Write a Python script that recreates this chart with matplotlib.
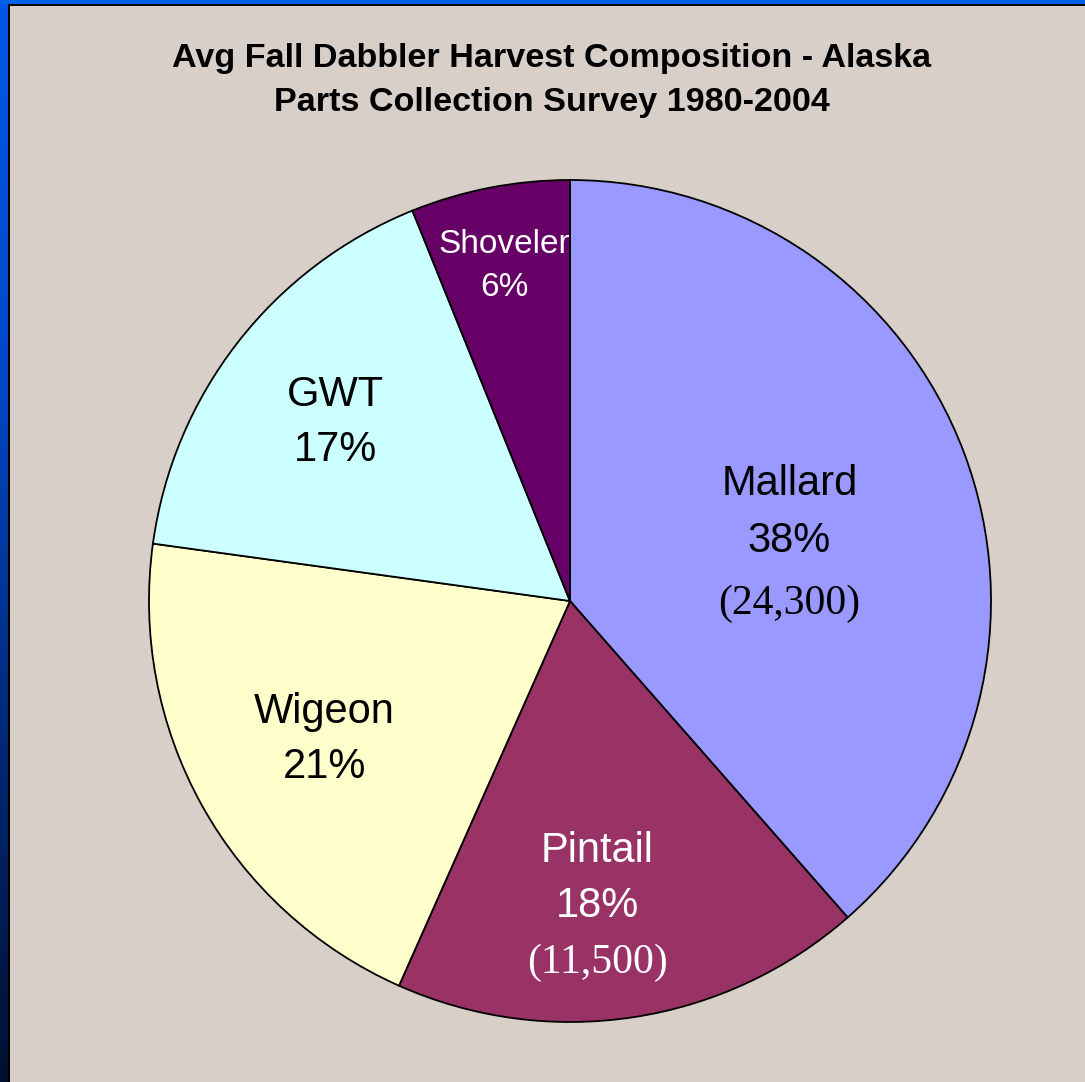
import numpy as np
import matplotlib
matplotlib.use("Agg")
import matplotlib.pyplot as plt
from matplotlib.patches import Rectangle
from matplotlib.colors import LinearSegmentedColormap

# ---- data ----
species = ["Mallard", "Pintail", "Wigeon", "GWT", "Shoveler"]
shares = [38.5, 18.1, 20.5, 16.7, 6.1]          # slice sizes
pct_labels = ["38%", "18%", "21%", "17%", "6%"]
counts = ["(24,300)", "(11,500)", None, None, None]
colors = ["#9999FF", "#993366", "#FFFFCC", "#CCFFFF", "#660066"]
text_colors = ["black", "white", "black", "black", "white"]
title_lines = ["Avg Fall Dabbler Harvest Composition - Alaska",
               "Parts Collection Survey 1980-2004"]

W, H = 1085, 1082
fig = plt.figure(figsize=(W / 100, H / 100), dpi=100)
bg = "#D8CFC9"
fig.patch.set_facecolor(bg)

# frame: blue top strip, gradient left strip, black lines
fig.add_artist(Rectangle((0, 1 - 4 / H), 1, 4 / H, transform=fig.transFigure,
                         facecolor="#0060E8", edgecolor="none", zorder=0))
gax = fig.add_axes([0, 0, 8 / W, 1 - 4 / H])
grad = np.linspace(0, 1, 256).reshape(-1, 1)
cmap = LinearSegmentedColormap.from_list("bl", ["#001030", "#002a7a", "#0048c8", "#0058E6"])
gax.imshow(grad, aspect="auto", cmap=cmap, origin="lower", extent=[0, 1, 0, 1])
gax.axis("off")
fig.add_artist(Rectangle((8 / W, 0), 1.5 / W, 1 - 4 / H, transform=fig.transFigure,
                         facecolor="black", edgecolor="none", zorder=3))
fig.add_artist(Rectangle((8 / W, 1 - 5.5 / H), 1 - 8 / W, 1.5 / H, transform=fig.transFigure,
                         facecolor="black", edgecolor="none", zorder=3))

# pie axes: center (570, 601) px, radius 421 px
cx, cy, r = 570, 601, 421
ax = fig.add_axes([(cx - r) / W, (H - cy - r) / H, 2 * r / W, 2 * r / H])
ax.set_facecolor("none")
wedges, _ = ax.pie(shares, colors=colors, startangle=90, counterclock=False,
                   radius=1.0, wedgeprops=dict(edgecolor="black", linewidth=1.3))
ax.set_xlim(-1, 1)
ax.set_ylim(-1, 1)
ax.axis("off")

# label placement: (distance fraction, angle offset deg), line offsets in px
place = [(0.540, -5.3), (0.723, -3.5), (0.67, 0.4), (0.70, 0.7), (0.82, 0.0)]
line_offsets = [[-56.5, 0.5, 62.5], [-53, 2, 59], [-27.5, 27.5], [-27.5, 27.5], [-17.5, 25.5]]
font_sizes = [30, 30, 30, 30, 24]
for w, sp, pl, cnt, tc, (d, off), offs, fs in zip(wedges, species, pct_labels, counts,
                                                    text_colors, place, line_offsets, font_sizes):
    mid = np.deg2rad((w.theta1 + w.theta2) / 2 + off)
    x, y = d * np.cos(mid), d * np.sin(mid)
    lines = [(sp, "Liberation Sans"), (pl, "Liberation Sans")]
    if cnt:
        lines.append((cnt, "Liberation Serif"))
    for (txt, fam), o in zip(lines, offs):
        ax.text(x, y - o / r, txt, ha="center", va="center", fontsize=fs,
                family=fam, color=tc)

for i, line in enumerate(title_lines):
    fig.text(552 / W, 1 - (58 + 44 * i) / H, line, ha="center", va="center",
             fontsize=24.6, fontweight="bold", family="Liberation Sans", color="black")

fig.savefig("out.png", dpi=100, facecolor=fig.get_facecolor())
